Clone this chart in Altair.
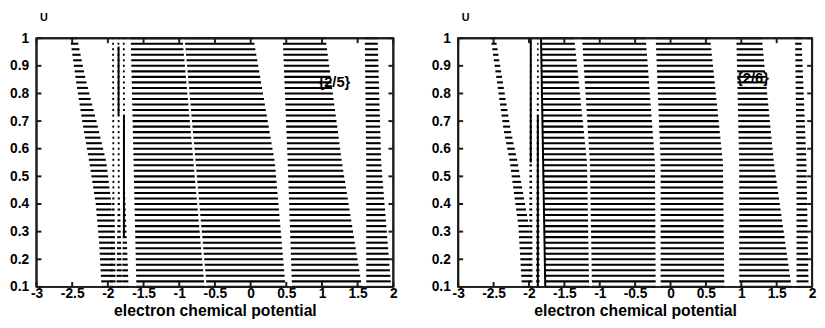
import altair as alt
import numpy as np
import pandas as pd

# ---------------- data ----------------
U_LEVELS = [0.10, 0.12, 0.14, 0.16, 0.18, 0.20, 0.22, 0.24, 0.26, 0.28,
            0.30, 0.32, 0.34, 0.36, 0.38, 0.40, 0.42, 0.44, 0.46, 0.48,
            0.50, 0.52, 0.54, 0.56, 0.58, 0.60, 0.62, 0.64, 0.66, 0.68,
            0.70, 0.72, 0.74, 0.76, 0.78, 0.80, 0.82, 0.84, 0.86, 0.88,
            0.90, 0.92, 0.94, 0.96, 0.98, 1.00]

X_DOMAIN = [-3, 2]
Y_DOMAIN = [0.1, 1.0]
X_TICKS = [-3, -2.5, -2, -1.5, -1, -0.5, 0, 0.5, 1, 1.5, 2]
Y_TICKS = [0.1, 0.2, 0.3, 0.4, 0.5, 0.6, 0.7, 0.8, 0.9, 1]

# band edges (electron chemical potential) read at a few U values
# left panel {2/5}
LEFT_NAMES = ["A", "N1", "N2", "N3", "B1", "B2", "B3", "B4"]
LEFT_U = [[0.1, 0.25, 0.4, 0.55, 0.7, 0.85, 1.0],
          [0.1, 0.45, 1.0], [0.1, 0.45, 1.0], [0.1, 0.45, 1.0],
          [0.1, 1.0], [0.1, 0.55, 1.0], [0.1, 0.55, 1.0], [0.1, 0.55, 1.0]]
LEFT_LO = [[-2.09, -2.12, -2.17, -2.26, -2.36, -2.45, -2.53],
           [-1.97, -1.935, -1.94], [-1.88, -1.86, -1.865], [-1.80, -1.785, -1.79],
           [-1.60, -1.68], [-0.615, -0.77, -0.925], [0.58, 0.52, 0.45], [1.62, 1.62, 1.60]]
LEFT_HI = [[-1.93, -1.93, -1.95, -2.02, -2.16, -2.31, -2.43],
           [-1.89, -1.91, -1.915], [-1.80, -1.835, -1.84], [-1.71, -1.76, -1.765],
           [-0.645, -0.955], [0.49, 0.34, 0.04], [1.56, 1.28, 1.05], [1.97, 1.83, 1.78]]
# solid vertical strokes in the left panel
LEFT_RULE_X1 = [-1.85, -1.775]
LEFT_RULE_X2 = [-1.85, -1.775]
LEFT_RULE_U1 = [0.72, 0.28]
LEFT_RULE_U2 = [0.97, 0.72]

# right panel {2/6}
RIGHT_NAMES = ["A", "N1", "N2", "R1", "R2", "R3", "R4", "R5"]
RIGHT_U = [[0.1, 0.32, 0.55, 0.67, 1.0],
           [0.1, 1.0], [0.1, 1.0],
           [0.1, 0.55, 1.0], [0.1, 0.55, 1.0], [0.1, 0.55, 1.0], [0.1, 0.55, 1.0], [0.1, 0.55, 1.0]]
RIGHT_LO = [[-2.10, -2.15, -2.27, -2.36, -2.54],
            [-2.0, -1.985], [-1.90, -1.885],
            [-1.77, -1.80, -1.83], [-1.11, -1.14, -1.25], [-0.14, -0.14, -0.21],
            [0.97, 0.97, 0.93], [1.78, 1.78, 1.76]]
RIGHT_HI = [[-1.97, -2.00, -2.16, -2.26, -2.47],
            [-1.95, -1.965], [-1.85, -1.865],
            [-1.15, -1.18, -1.36], [-0.21, -0.22, -0.35], [0.76, 0.74, 0.56],
            [1.71, 1.46, 1.29], [1.95, 1.92, 1.85]]
RIGHT_RULE_X1 = [-1.975, -1.875, -1.77]
RIGHT_RULE_X2 = [-1.975, -1.875, -1.83]
RIGHT_RULE_U1 = [0.55, 0.10, 0.10]
RIGHT_RULE_U2 = [1.00, 0.72, 1.00]

LEFT_LABEL, LEFT_LABEL_X, LEFT_LABEL_U = "{2/5}", 0.95, 0.84
RIGHT_LABEL, RIGHT_LABEL_X, RIGHT_LABEL_U = "{2/6}", 0.94, 0.855

FONT = "Liberation Sans"
HEIGHT = 253
TICK_PX = 5
FRAME_COLOR = "#1c1c1c"


def segments(names, us, los, his):
    rows = []
    for name, u, lo, hi in zip(names, us, los, his):
        for lev in U_LEVELS:
            rows.append({"band": name, "U": lev,
                         "lo": float(np.interp(lev, u, lo)),
                         "hi": float(np.interp(lev, u, hi))})
    return pd.DataFrame(rows)


def x_enc(field):
    return alt.X(field, type="quantitative",
                 scale=alt.Scale(domain=X_DOMAIN, nice=False, zero=False),
                 axis=alt.Axis(values=X_TICKS, ticks=False, domain=False, grid=False,
                               labelExpr="'' + datum.value", labelFont=FONT,
                               labelFontSize=14, labelFontWeight="bold", labelColor="black",
                               labelPadding=0, labelFlush=False, labelOverlap=False,
                               title="electron chemical potential", titleFont=FONT,
                               titleFontSize=16, titleFontWeight="bold", titleColor="black",
                               titlePadding=2))


def y_enc(field):
    return alt.Y(field, type="quantitative",
                 scale=alt.Scale(domain=Y_DOMAIN, nice=False, zero=False),
                 axis=alt.Axis(values=Y_TICKS, ticks=False, domain=False, grid=False,
                               labelExpr="'' + datum.value", labelFont=FONT,
                               labelFontSize=14, labelFontWeight="bold", labelColor="black",
                               labelPadding=8, labelFlush=False, labelOverlap=False,
                               title="U", titleAngle=0, titleX=7, titleY=-21,
                               titleAlign="center", titleBaseline="middle",
                               titleFont=FONT, titleFontSize=11, titleFontWeight="bold",
                               titleColor="black"))


def panel(names, us, los, his, rx1, rx2, ru1, ru2, label, lx, lu, width):
    ldf = pd.DataFrame({"x": [lx], "y": [lu], "t": [label]})
    text = alt.Chart(ldf).mark_text(align="left", baseline="middle", font=FONT,
                                    fontSize=15, fontWeight="bold", color="black").encode(
        x=x_enc("x"), y=y_enc("y"), text="t:N")

    seg = segments(names, us, los, his)
    bands = alt.Chart(seg).mark_rule(color="black", strokeWidth=2.1).encode(
        x=x_enc("lo"), x2="hi", y=y_enc("U"))

    rdf = pd.DataFrame({"x1": rx1, "x2": rx2, "u1": ru1, "u2": ru2})
    rules = alt.Chart(rdf).mark_rule(color="black", strokeWidth=2).encode(
        x=x_enc("x1"), x2="x2", y=y_enc("u1"), y2="u2")

    # frame and inward ticks on all four sides (length TICK_PX pixels)
    xa, xb = X_DOMAIN
    ya, yb = Y_DOMAIN
    dx = TICK_PX * (xb - xa) / width
    dy = TICK_PX * (yb - ya) / HEIGHT
    trows = [{"x1": xa, "x2": xb, "u1": ya, "u2": ya, "c": FRAME_COLOR},
             {"x1": xa, "x2": xb, "u1": yb, "u2": yb, "c": FRAME_COLOR},
             {"x1": xa, "x2": xa, "u1": ya, "u2": yb, "c": FRAME_COLOR},
             {"x1": xb, "x2": xb, "u1": ya, "u2": yb, "c": FRAME_COLOR}]
    for v in X_TICKS:
        trows.append({"x1": v, "x2": v, "u1": ya, "u2": ya + dy, "c": FRAME_COLOR})
        trows.append({"x1": v, "x2": v, "u1": yb, "u2": yb - dy, "c": FRAME_COLOR})
    for v in Y_TICKS:
        trows.append({"x1": xa, "x2": xa + dx, "u1": v, "u2": v, "c": FRAME_COLOR})
        trows.append({"x1": xb, "x2": xb - dx, "u1": v, "u2": v, "c": FRAME_COLOR})
    ticks = alt.Chart(pd.DataFrame(trows)).mark_rule(strokeWidth=2).encode(
        x=x_enc("x1"), x2="x2", y=y_enc("u1"), y2="u2",
        color=alt.Color("c:N", scale=None))

    return alt.layer(text, bands, rules, ticks).properties(width=width, height=HEIGHT)


left = panel(LEFT_NAMES, LEFT_U, LEFT_LO, LEFT_HI,
             LEFT_RULE_X1, LEFT_RULE_X2, LEFT_RULE_U1, LEFT_RULE_U2,
             LEFT_LABEL, LEFT_LABEL_X, LEFT_LABEL_U, 363)
right = panel(RIGHT_NAMES, RIGHT_U, RIGHT_LO, RIGHT_HI,
              RIGHT_RULE_X1, RIGHT_RULE_X2, RIGHT_RULE_U1, RIGHT_RULE_U2,
              RIGHT_LABEL, RIGHT_LABEL_X, RIGHT_LABEL_U, 360)

chart = alt.hconcat(left, right, spacing=32).properties(
    padding={"left": 0, "top": 0, "right": 0, "bottom": 0}
).configure_view(stroke=FRAME_COLOR, strokeWidth=2)

chart.save("out.html", embed_options={"renderer": "svg", "actions": False})
